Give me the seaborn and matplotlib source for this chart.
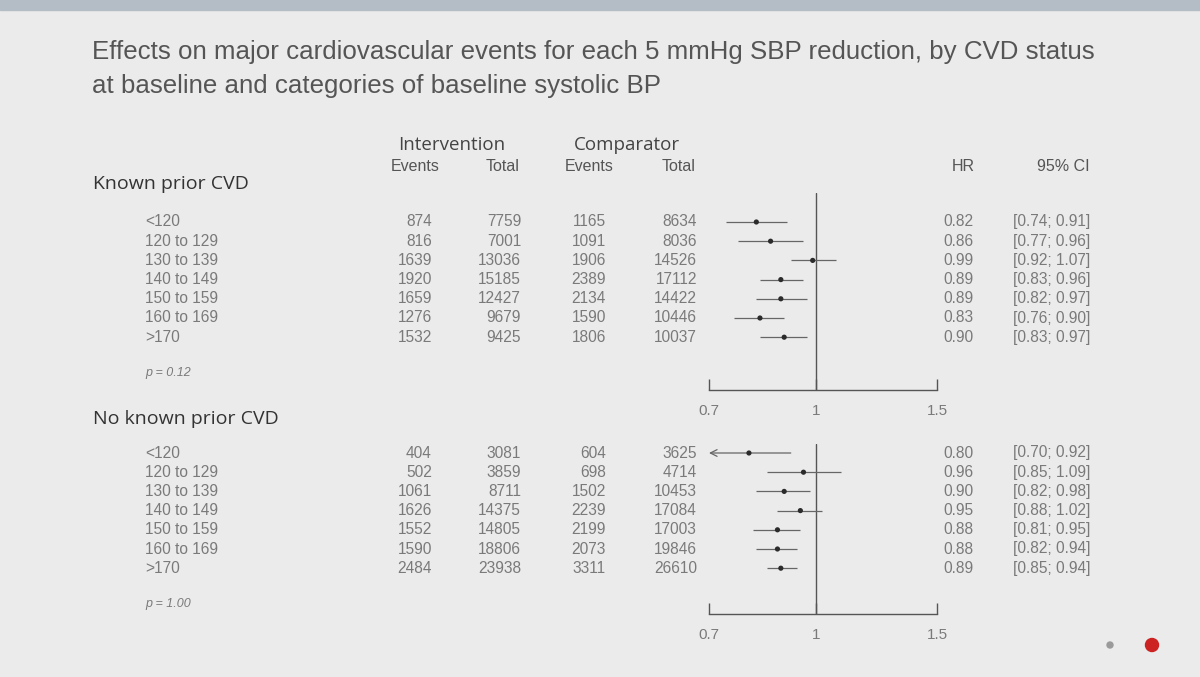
import seaborn as sns
import pandas as pd
import matplotlib.pyplot as plt
import matplotlib.transforms as mtransforms
from matplotlib.ticker import NullLocator
from matplotlib.patches import Rectangle, Ellipse

# Data
sbpLabels = ["<120", "120 to 129", "130 to 139", "140 to 149", "150 to 159", "160 to 169", ">170"]

priorIntEvents = [874, 816, 1639, 1920, 1659, 1276, 1532]
priorIntTotal = [7759, 7001, 13036, 15185, 12427, 9679, 9425]
priorCompEvents = [1165, 1091, 1906, 2389, 2134, 1590, 1806]
priorCompTotal = [8634, 8036, 14526, 17112, 14422, 10446, 10037]
priorHR = [0.82, 0.86, 0.99, 0.89, 0.89, 0.83, 0.90]
priorLo = [0.74, 0.77, 0.92, 0.83, 0.82, 0.76, 0.83]
priorHi = [0.91, 0.96, 1.07, 0.96, 0.97, 0.90, 0.97]
priorP = "p = 0.12"

noPriorIntEvents = [404, 502, 1061, 1626, 1552, 1590, 2484]
noPriorIntTotal = [3081, 3859, 8711, 14375, 14805, 18806, 23938]
noPriorCompEvents = [604, 698, 1502, 2239, 2199, 2073, 3311]
noPriorCompTotal = [3625, 4714, 10453, 17084, 17003, 19846, 26610]
noPriorHR = [0.80, 0.96, 0.90, 0.95, 0.88, 0.88, 0.89]
noPriorLo = [0.70, 0.85, 0.82, 0.88, 0.81, 0.82, 0.85]
noPriorHi = [0.92, 1.09, 0.98, 1.02, 0.95, 0.94, 0.94]
noPriorP = "p = 1.00"

xTicks = [0.7, 1, 1.5]
xTickLabels = ["0.7", "1", "1.5"]

W, H = 1200, 677
bg = "#ebebeb"
numCol = "#7a7a7a"
headFont = ["Open Sans", "DejaVu Sans"]
numFont = ["Liberation Sans", "DejaVu Sans"]

def px(x):
    return x / W

def py(y):
    return 1 - y / H

sns.set_theme(style="white")
plt.rcParams["font.family"] = numFont

fig = plt.figure(figsize=(12, 6.77), dpi=100, facecolor=bg)

# top band of the slide photo
fig.patches.append(Rectangle((0, py(10)), 1, 10 / H, transform=fig.transFigure,
                             color="#b4bcc6", zorder=0))

fig.text(px(92), py(52), "Effects on major cardiovascular events for each 5 mmHg SBP reduction, by CVD status",
         fontsize=18.6, color="#555555", va="center", ha="left")
fig.text(px(92), py(86), "at baseline and categories of baseline systolic BP",
         fontsize=18.6, color="#555555", va="center", ha="left")

# column headers
fig.text(px(452), py(145), "Intervention", fontsize=13.5, color="#444444", ha="center", va="center", family=headFont)
fig.text(px(627), py(145), "Comparator", fontsize=13.5, color="#444444", ha="center", va="center", family=headFont)
for x, lab in [(415, "Events"), (503, "Total"), (589, "Events"), (679, "Total"), (963, "HR"), (1063, "95% CI")]:
    fig.text(px(x), py(166), lab, fontsize=11.5, color="#555555", ha="center", va="center")


def drawPanel(top, bottom, firstRow, title, titleY, intEv, intTot, compEv, compTot, hr, lo, hi, pText):
    rowStep = 19.2
    ax = fig.add_axes([px(709), py(bottom), px(937) - px(709), (bottom - top) / H])
    ax.patch.set_visible(False)

    df = pd.DataFrame({"row": range(len(sbpLabels)), "hr": hr, "lo": lo, "hi": hi})

    # CIs, with an arrow when the lower limit hits the axis edge
    for r in df.itertuples():
        if r.lo <= xTicks[0]:
            ax.annotate("", xy=(r.lo, r.row), xytext=(r.hi, r.row),
                        arrowprops=dict(arrowstyle="->", color="#666666", lw=0.9, shrinkA=0, shrinkB=0))
        else:
            ax.hlines(r.row, r.lo, r.hi, color="#666666", lw=0.9)
    sns.scatterplot(data=df, x="hr", y="row", ax=ax, color="#2b2b2b", s=14,
                    edgecolor="none", zorder=3, legend=False)
    ax.axvline(1, color="#555555", lw=1, zorder=1)

    ax.set_xscale("log")
    ax.set_xlim(xTicks[0], xTicks[-1])
    ax.set_ylim((bottom - firstRow) / rowStep, (top - firstRow) / rowStep)
    ax.set_xticks(xTicks)
    ax.set_xticklabels(xTickLabels)
    ax.xaxis.set_minor_locator(NullLocator())
    ax.set_yticks([])
    ax.set_xlabel("")
    ax.set_ylabel("")
    for side in ["top", "left", "right"]:
        ax.spines[side].set_visible(False)
    ax.spines["bottom"].set_color("#555555")
    ax.spines["bottom"].set_linewidth(1)
    ax.tick_params(axis="x", direction="in", length=8, width=1, color="#555555",
                   labelsize=11, labelcolor=numCol, pad=10, bottom=True)

    trans = mtransforms.blended_transform_factory(fig.transFigure, ax.transData)
    fig.text(px(93), py(titleY), title, fontsize=14, color="#333333", ha="left", va="center", family=headFont)
    for i in range(len(sbpLabels)):
        kw = dict(transform=trans, fontsize=11.2, color=numCol, va="center")
        ax.text(px(145), i, sbpLabels[i], ha="left", **kw)
        ax.text(px(432), i, str(intEv[i]), ha="right", **kw)
        ax.text(px(521), i, str(intTot[i]), ha="right", **kw)
        ax.text(px(606), i, str(compEv[i]), ha="right", **kw)
        ax.text(px(697), i, str(compTot[i]), ha="right", **kw)
        ax.text(px(973), i, f"{hr[i]:.2f}", ha="right", **kw)
        ax.text(px(1013), i, f"[{lo[i]:.2f}; {hi[i]:.2f}]", ha="left", **kw)
    ax.text(px(145), 7.86, pText, transform=trans, fontsize=9, color=numCol,
            ha="left", va="center", style="italic")
    return ax


drawPanel(193, 390, 222, "Known prior CVD", 184, priorIntEvents, priorIntTotal,
          priorCompEvents, priorCompTotal, priorHR, priorLo, priorHi, priorP)
drawPanel(444, 614, 453, "No known prior CVD", 419, noPriorIntEvents, noPriorIntTotal,
          noPriorCompEvents, noPriorCompTotal, noPriorHR, noPriorLo, noPriorHi, noPriorP)

# slide navigation dots
fig.patches.append(Ellipse((px(1110), py(645)), 6 / W, 6 / H, transform=fig.transFigure, color="#9a9a9a"))
fig.patches.append(Ellipse((px(1152), py(645)), 13 / W, 13 / H, transform=fig.transFigure, color="#cc2222"))

plt.savefig("out.png", dpi=100, facecolor=bg)
